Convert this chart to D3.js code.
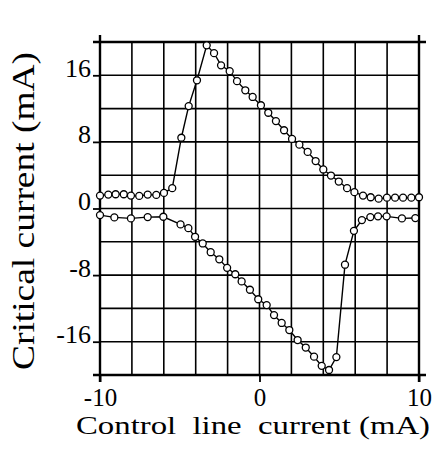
<!DOCTYPE html>
<html><head><meta charset="utf-8">
<script src="https://cdn.jsdelivr.net/npm/d3@7"></script>
<style>
html,body{margin:0;padding:0;background:#fff;}
svg{display:block;}
</style></head>
<body>
<svg id="chart" width="436" height="452"></svg>
<script>
// Upper branch (positive critical current)
const upperX = [-10, -9.48, -9.02, -8.51, -8.06, -7.54, -7.01, -6.47, -5.99, -5.47, -4.9, -4.44, -3.92, -3.31,
  -2.85, -2.41, -1.87, -1.41, -0.89, -0.43, 0.09, 0.55, 1.03, 1.54, 2.04, 2.5, 3.02, 3.52, 4.0, 4.48, 4.97,
  5.49, 5.95, 6.49, 6.97, 7.47, 7.99, 8.5, 9.0, 9.52, 10.0];
const upperY = [1.55, 1.67, 1.71, 1.71, 1.55, 1.51, 1.67, 1.63, 1.87, 2.44, 8.5, 12.3, 15.4, 19.6,
  18.66, 17.2, 16.5, 15.3, 14.2, 13.4, 12.4, 11.5, 10.5, 9.4, 8.36, 7.67, 6.8, 5.7, 4.69, 3.96, 3.24,
  2.44, 1.96, 1.55, 1.35, 1.18, 1.3, 1.3, 1.3, 1.3, 1.35];
// Lower branch (negative critical current)
const lowerX = [-10, -9.1, -8.06, -7.01, -6.03, -4.95, -4.46, -4.04, -3.56, -3.06, -2.52, -2.03, -1.52, -1.12,
  -0.6, -0.08, 0.45, 0.91, 1.39, 1.87, 2.39, 2.9, 3.42, 3.9, 4.36, 4.82, 5.36, 5.92, 6.42, 6.95, 7.43, 7.97,
  8.93, 9.77];
const lowerY = [-0.79, -1.07, -1.19, -1.03, -0.99, -1.91, -2.36, -3.4, -4.2, -5.25, -6.1, -7.13, -7.9, -8.76,
  -9.76, -10.9, -11.6, -12.8, -13.75, -14.6, -15.8, -16.7, -17.8, -18.9, -19.4, -17.85, -6.75, -2.68, -1.39, -1.03, -0.94, -0.94,
  -1.19, -1.15];

const xTicks = [-10, 0, 10];
const yTicks = [-16, -8, 0, 8, 16];
const xGrid = [-8, -6, -4, -2, 0, 2, 4, 6, 8];
const yGrid = [-16, -12, -8, -4, 0, 4, 8, 12, 16];
const xTitle = "Control  line  current (mA)";
const yTitle = "Critical current (mA)";

const svg = d3.select("#chart");
const x = d3.scaleLinear().domain([-10, 10]).range([100, 419]);
const y = d3.scaleLinear().domain([-20, 20]).range([375, 42]);
const FONT = "'Liberation Serif','Times New Roman',serif";

// grid
svg.append("g").selectAll("line").data(xGrid).join("line")
  .attr("x1", d => x(d)).attr("x2", d => x(d)).attr("y1", y(20)).attr("y2", y(-20))
  .attr("stroke", "#000").attr("stroke-width", 1.6);
svg.append("g").selectAll("line").data(yGrid).join("line")
  .attr("x1", x(-10)).attr("x2", x(10)).attr("y1", d => y(d)).attr("y2", d => y(d))
  .attr("stroke", "#000").attr("stroke-width", 1.6);

// frame lines extending a little past the corners
const ext = 7;
const frame = [
  [x(-10) - ext, y(20), x(10) + ext, y(20)],
  [x(-10) - ext, y(-20), x(10) + ext, y(-20)],
  [x(-10), y(20) - ext, x(-10), y(-20) + ext],
  [x(10), y(20) - ext, x(10), y(-20) + ext]
];
svg.append("g").selectAll("line").data(frame).join("line")
  .attr("x1", d => d[0]).attr("y1", d => d[1]).attr("x2", d => d[2]).attr("y2", d => d[3])
  .attr("stroke", "#000").attr("stroke-width", 2.4);

// axes
const yAxis = svg.append("g").attr("transform", `translate(${x(-10)},0)`)
  .call(d3.axisLeft(y).tickValues(yTicks).tickSize(7).tickPadding(2).tickFormat(d => String(d)));
const xAxis = svg.append("g").attr("transform", `translate(0,${y(-20)})`)
  .call(d3.axisBottom(x).tickValues(xTicks).tickSize(7).tickPadding(0).tickFormat(d => String(d)));
[yAxis, xAxis].forEach(a => {
  a.select(".domain").remove();
  a.selectAll(".tick line").attr("stroke", "#000").attr("stroke-width", 1.8);
  a.selectAll(".tick text").attr("fill", "#000").style("font-family", FONT).style("font-size", "26px");
});
yAxis.selectAll(".tick text").attr("dy", "0").attr("y", 1);
xAxis.selectAll(".tick text").attr("dy", "0").attr("y", 30.5).style("font-size", "25px");

// series
const line = d3.line().x(d => x(d[0])).y(d => y(d[1]));
const upper = upperX.map((v, i) => [v, upperY[i]]);
const lower = lowerX.map((v, i) => [v, lowerY[i]]);
[upper, lower].forEach(s => {
  svg.append("path").datum(s).attr("d", line).attr("fill", "none")
    .attr("stroke", "#000").attr("stroke-width", 1.4);
  svg.append("g").selectAll("circle").data(s).join("circle")
    .attr("cx", d => x(d[0])).attr("cy", d => y(d[1])).attr("r", 3.5)
    .attr("fill", "#fff").attr("stroke", "#000").attr("stroke-width", 1.3);
});

// titles
svg.append("text").attr("x", 76).attr("y", 434)
  .attr("textLength", 354).attr("lengthAdjust", "spacingAndGlyphs")
  .style("font-family", FONT).style("font-size", "26px")
  .attr("xml:space", "preserve").text(xTitle);
svg.append("text").attr("transform", `translate(34,370) rotate(-90)`)
  .attr("textLength", 318).attr("lengthAdjust", "spacingAndGlyphs")
  .style("font-family", FONT).style("font-size", "31px").text(yTitle);
</script>
</body></html>
